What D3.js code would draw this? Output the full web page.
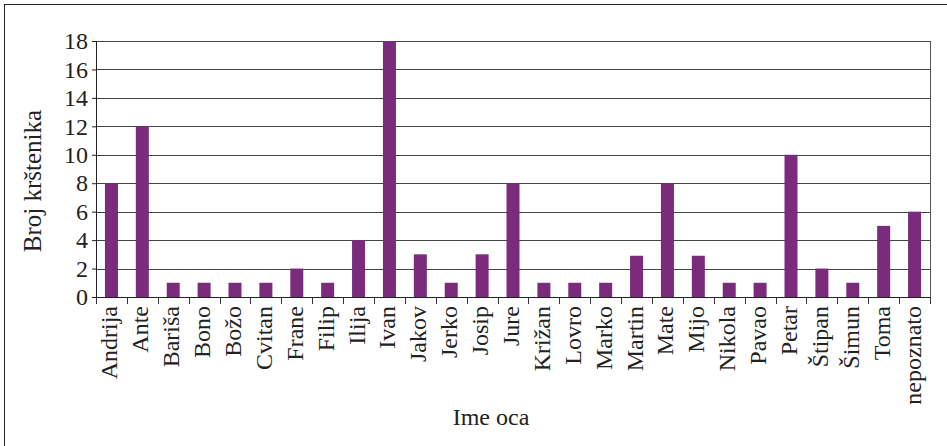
<!DOCTYPE html>
<html>
<head>
<meta charset="utf-8">
<script src="https://cdn.jsdelivr.net/npm/d3@7"></script>
<style>
  body { margin: 0; background: #fff; }
  .grid line { stroke: #444; stroke-width: 1; }
</style>
</head>
<body>
<svg id="chart" width="947" height="446"></svg>
<script>
// imena oceva i broj krstenika
var names = ["Andrija", "Ante", "Bariša", "Bono", "Božo", "Cvitan", "Frane", "Filip", "Ilija",
             "Ivan", "Jakov", "Jerko", "Josip", "Jure", "Križan", "Lovro", "Marko", "Martin",
             "Mate", "Mijo", "Nikola", "Pavao", "Petar", "Štipan", "Šimun", "Toma", "nepoznato"];
var counts = [8, 12, 1, 1, 1, 1, 2, 1, 4, 18, 3, 1, 3, 8, 1, 1, 1, 2.9, 8, 2.9, 1, 1, 10, 2, 1, 5, 6];
var yTicks = [0, 2, 4, 6, 8, 10, 12, 14, 16, 18];

var serif = "'Liberation Serif', 'Times New Roman', 'DejaVu Serif', serif";

var svg = d3.select("svg#chart"),
    margin = {top: 41, right: 17, bottom: 149, left: 96},
    width = +svg.attr("width") - margin.left - margin.right,
    height = +svg.attr("height") - margin.top - margin.bottom;

// outer frame
svg.append("rect")
    .attr("x", 4.5).attr("y", 4.5)
    .attr("width", 950).attr("height", 450)
    .attr("fill", "none")
    .attr("stroke", "#222");

var data = names.map(function(n, i) { return {name: n, value: counts[i]}; });

var x = d3.scaleBand().domain(names).range([0, width]);
var y = d3.scaleLinear().domain([0, 18]).range([height, 0]);

var g = svg.append("g")
    .attr("transform", "translate(" + margin.left + "," + margin.top + ")");

// gridlines
g.append("g")
    .attr("class", "grid")
  .selectAll("line")
  .data(yTicks.slice(1))
  .enter().append("line")
    .attr("x1", 0)
    .attr("x2", width)
    .attr("y1", function(d) { return Math.round(y(d)) + 0.5; })
    .attr("y2", function(d) { return Math.round(y(d)) + 0.5; });

// right plot border
g.append("line")
    .attr("x1", width + 0.5).attr("x2", width + 0.5)
    .attr("y1", 0).attr("y2", height)
    .attr("stroke", "#555");

// bars
var barW = 13;
g.selectAll(".bar")
  .data(data)
  .enter().append("rect")
    .attr("class", "bar")
    .attr("x", function(d) { return x(d.name) + (x.bandwidth() - barW) / 2; })
    .attr("width", barW)
    .attr("y", function(d) { return y(d.value); })
    .attr("height", function(d) { return height - y(d.value); })
    .attr("fill", "#7a2b7c");

// y axis
var yAxis = g.append("g")
    .attr("class", "axis axis--y")
    .call(d3.axisLeft(y).tickValues(yTicks).tickSize(4).tickPadding(4));
yAxis.attr("font-family", null);
yAxis.select(".domain").attr("stroke", "#222");
yAxis.selectAll(".tick line").attr("stroke", "#222");
yAxis.selectAll("text")
    .style("font-family", serif)
    .style("font-size", "24px")
    .attr("fill", "#222");

// x axis: ticks between categories
var xAxis = g.append("g")
    .attr("class", "axis axis--x")
    .attr("transform", "translate(0," + height + ")");

xAxis.append("line")
    .attr("x1", 0).attr("x2", width)
    .attr("y1", 0.5).attr("y2", 0.5)
    .attr("stroke", "#222");

xAxis.selectAll(".sep")
  .data(names.concat(["_end"]))
  .enter().append("line")
    .attr("class", "sep")
    .attr("x1", function(d, i) { return Math.round(i * x.step()) + 0.5; })
    .attr("x2", function(d, i) { return Math.round(i * x.step()) + 0.5; })
    .attr("y1", 0)
    .attr("y2", 7)
    .attr("stroke", "#333");

xAxis.selectAll(".lbl")
  .data(names)
  .enter().append("text")
    .attr("class", "lbl")
    .attr("transform", function(d) {
      return "translate(" + (x(d) + x.bandwidth() / 2 + 6) + ",9) rotate(-90)";
    })
    .style("text-anchor", "end")
    .style("font-family", serif)
    .style("font-size", "24px")
    .attr("fill", "#222")
    .text(function(d) { return d; });

// axis titles
svg.append("text")
    .attr("transform", "translate(41,181) rotate(-90)")
    .style("text-anchor", "middle")
    .style("font-family", serif)
    .style("font-size", "25px")
    .attr("fill", "#222")
    .text("Broj krštenika");

svg.append("text")
    .attr("x", 491)
    .attr("y", 425)
    .style("text-anchor", "middle")
    .style("font-family", serif)
    .style("font-size", "24px")
    .attr("fill", "#222")
    .text("Ime oca");
</script>
</body>
</html>
